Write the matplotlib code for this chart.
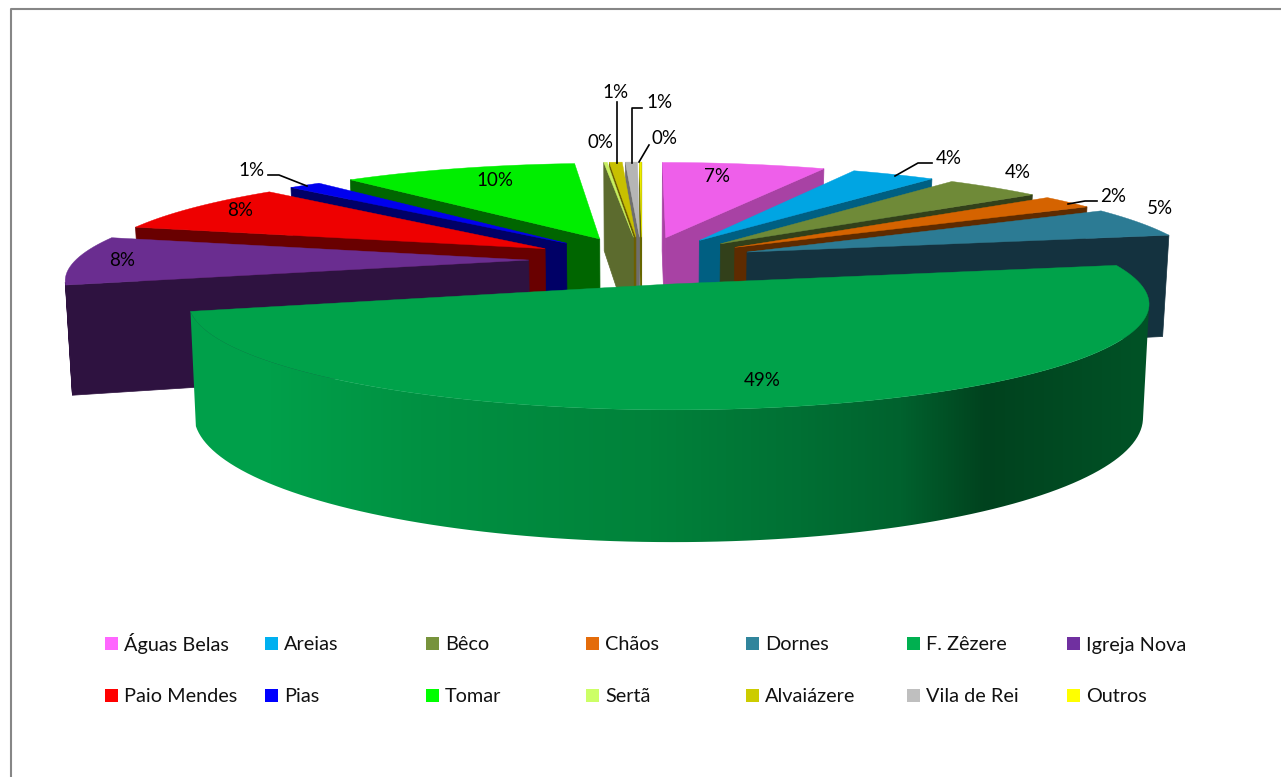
import numpy as np
import matplotlib
matplotlib.use('Agg')
import matplotlib.pyplot as plt
from matplotlib.patches import Polygon, Rectangle

plt.rcParams['font.family'] = ['Lato', 'DejaVu Sans']

# clockwise from 12 o'clock
names = ['Águas Belas', 'Areias', 'Bêco', 'Chãos', 'Dornes', 'F. Zêzere', 'Igreja Nova',
         'Paio Mendes', 'Pias', 'Tomar', 'Sertã', 'Alvaiázere', 'Vila de Rei', 'Outros']
values = [7.0, 3.6, 4.1, 2.3, 5.0, 49.0, 8.0, 8.3, 1.4, 10.05, 0.15, 0.55, 0.52, 0.1]

legend_colors = ['#FF66FF', '#00B0F0', '#77933C', '#E46C0A', '#31859C', '#00B050', '#7030A0',
                 '#FF0000', '#0000FF', '#00FF00', '#CCFF66', '#CCCC00', '#BFBFBF', '#FFFF00']
top_colors = ['#EE5FEA', '#00A5E3', '#6F8A38', '#D56300', '#2C7B94', '#00A24A', '#6A2D90',
              '#EE0000', '#0000EE', '#00EE00', '#C8F060', '#C8C000', '#B5B5B5', '#EEEE00']
side_colors = ['#A842A4', '#005F82', '#32401A', '#5E2B00', '#14323F', '#00803A', '#2E1240',
               '#690000', '#000066', '#006600', '#5C6B2E', '#6C5F00', '#6E6E6E', '#666600']

# shading along the big slice's rim, left to right
rim_x = [190, 270, 420, 650, 800, 900, 985, 1140]
rim_rgb = [(0, 160, 74), (0, 160, 74), (0, 145, 66), (0, 130, 58), (0, 112, 52), (0, 98, 46), (0, 66, 30), (0, 82, 38)]

# pie geometry, pixels
cx, cy = 642, 260
R, Rk = 453, 95
explode = 0.25
persp = 0.17
height = 107
shrink = 0.012


def proj(u, v, z=0):
    s = (1 - shrink * z) / (1 + persp * v)
    return cx + R * u * s, cy + (-v * Rk + z * height) * s


def area(pts):
    x, y = np.array(pts).T
    return 0.5 * np.sum(x * np.roll(y, -1) - np.roll(x, -1) * y)


vals = np.array(values)
pct = vals / vals.sum() * 100
edges = np.concatenate([[0], np.cumsum(pct)]) * 3.6
mids = (edges[:-1] + edges[1:]) / 2

fig = plt.figure(figsize=(12.81, 7.77), dpi=100)
ax = fig.add_axes([0, 0, 1, 1])
ax.axis('off')

ax.plot([11, 11, 1281], [777, 9, 9], color='#868686', lw=1.5)

z = 2
for i in np.argsort(-np.cos(np.radians(mids))):
    m = np.radians(mids[i])
    ou, ov = explode * np.sin(m), explode * np.cos(m)
    n = max(2, int((edges[i + 1] - edges[i]) / 1.5) + 1)
    th = np.radians(np.linspace(edges[i], edges[i + 1], n))
    ring = [(ou + np.sin(t), ov + np.cos(t)) for t in th]
    loop = [(ou, ov)] + ring
    upper, lower = [], []
    for a, b in zip(loop, loop[1:] + loop[:1]):
        quad = [proj(*a), proj(*b), proj(*b, 1), proj(*a, 1)]
        if area(quad) < 0:
            if names[i] == 'F. Zêzere':
                upper += quad[:2]
                lower += [quad[3], quad[2]]
            else:
                ax.add_patch(Polygon(quad, closed=True, fc=side_colors[i], ec=side_colors[i], lw=0.5, zorder=z))
    if upper:
        # big slice's wall is one gradient clipped to the rim
        wall = Polygon(upper + lower[::-1], closed=True, transform=ax.transData, fc='none', ec='none')
        ax.add_patch(wall)
        xs = np.arange(150, 1181)
        grad = np.stack([np.interp(xs, rim_x, [c[k] for c in rim_rgb]) / 255 for k in range(3)], axis=-1)
        im = ax.imshow(grad[np.newaxis, :, :], extent=(150, 1181, 600, 200), aspect='auto', zorder=z)
        im.set_clip_path(wall)
    z += 1
    ax.add_patch(Polygon([proj(*p) for p in loop], closed=True, fc=top_colors[i], ec=top_colors[i], lw=0.3, zorder=z))
    z += 1

ax.set_xlim(0, 1281)
ax.set_ylim(777, 0)

# data labels, in slice order
label_pos = [(717, 177), (949, 159), (1018, 172), (1113, 197), (1160, 209), (762, 380), (122, 260),
             (240, 211), (252, 170), (495, 180), (600, 142), (615, 92), (659, 102), (665, 139)]
for p, (x, y) in zip(pct, label_pos):
    ax.text(x, y, f'{p:.0f}%', ha='center', va='center', fontsize=13.5, color='black', zorder=z)

leaders = [[(895, 176), (918, 163), (932, 163)],
           [(1068, 204), (1085, 201), (1097, 201)],
           [(268, 175), (279, 175), (307, 186)],
           [(617, 163), (617, 102)],
           [(632, 163), (632, 108), (642, 108)],
           [(639, 162), (649, 145)]]
for line in leaders:
    ax.plot(*zip(*line), color='black', lw=1.2, zorder=z)

# legend, two rows of seven
col_x = [105, 265, 426, 586, 746, 907, 1067]
row_y = [643.5, 695.5]
for i, (name, col) in enumerate(zip(names, legend_colors)):
    x, y = col_x[i % 7], row_y[i // 7]
    ax.add_patch(Rectangle((x, y - 6.5), 13, 13, fc=col, ec='none'))
    ax.text(x + 19, y + 7, name, ha='left', va='baseline', fontsize=14.3, color='#111111')

fig.savefig('out.png', dpi=100)
